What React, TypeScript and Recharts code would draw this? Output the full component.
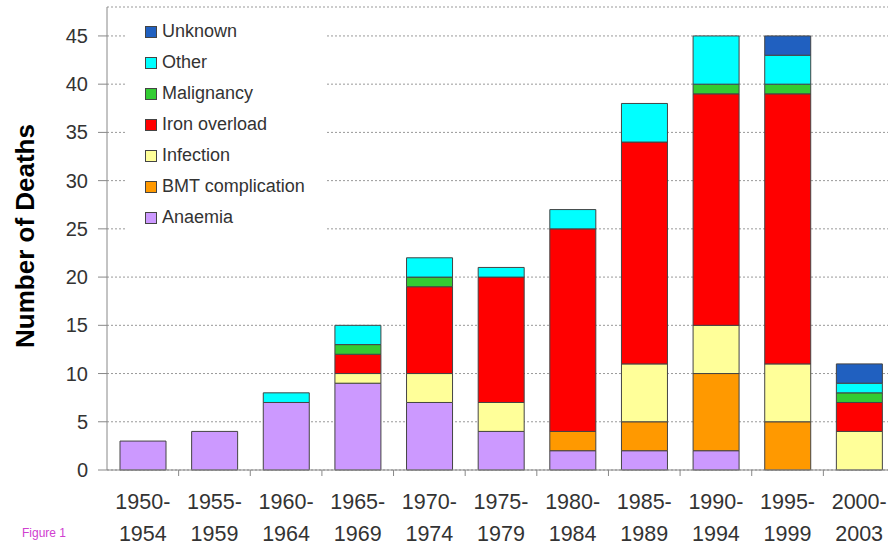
import React from 'react';
import { BarChart, Bar, XAxis, YAxis, CartesianGrid, Legend } from 'recharts';

const categories = ['1950-1954', '1955-1959', '1960-1964', '1965-1969', '1970-1974', '1975-1979', '1980-1984', '1985-1989', '1990-1994', '1995-1999', '2000-2003'];
const anaemia = [3, 4, 7, 9, 7, 4, 2, 2, 2, 0, 0];
const bmtComplication = [0, 0, 0, 0, 0, 0, 2, 3, 8, 5, 0];
const infection = [0, 0, 0, 1, 3, 3, 0, 6, 5, 6, 4];
const ironOverload = [0, 0, 0, 2, 9, 13, 21, 23, 24, 28, 3];
const malignancy = [0, 0, 0, 1, 1, 0, 0, 0, 1, 1, 1];
const other = [0, 0, 1, 2, 2, 1, 2, 4, 5, 3, 1];
const unknown = [0, 0, 0, 0, 0, 0, 0, 0, 0, 2, 2];

const seriesNames = ['Anaemia', 'BMT complication', 'Infection', 'Iron overload', 'Malignancy', 'Other', 'Unknown'];
const seriesColors = ['#CC99FF', '#FF9900', '#FFFF99', '#FF0000', '#33CC33', '#00FFFF', '#2060C0'];
const seriesValues = [anaemia, bmtComplication, infection, ironOverload, malignancy, other, unknown];
const yTicks = [0, 5, 10, 15, 20, 25, 30, 35, 40, 45];

const data = categories.map((c, i) => {
  const row: Record<string, any> = { period: c };
  seriesNames.forEach((n, k) => {
    row[n] = seriesValues[k][i];
  });
  return row;
});

const CHART_W = 900;
const CHART_H = 546;
const Y_W = 107;
const M_R = 5;
const BAND = (CHART_W - Y_W - M_R) / categories.length;
const FONT = '"Liberation Sans", Arial, sans-serif';

const XTick = (props: any) => {
  const { x, y, payload, index } = props;
  const value: string = payload.value;
  const dash = value.indexOf('-');
  const a = value.slice(0, dash + 1);
  const b = value.slice(dash + 1);
  return (
    <g>
      {index > 0 && (
        <line x1={x - BAND / 2} x2={x - BAND / 2} y1={y} y2={y + 6} stroke="#888" strokeWidth={1} />
      )}
      <text x={x} y={y + 39} textAnchor="middle" fontSize={21.5} fill="#333" fontFamily={FONT}>
        {a}
      </text>
      <text x={x} y={y + 71} textAnchor="middle" fontSize={21.5} fill="#333" fontFamily={FONT}>
        {b}
      </text>
    </g>
  );
};

const renderLegend = () => {
  const items = seriesNames.map((n, i) => ({ n, c: seriesColors[i] })).reverse();
  return (
    <div style={{ background: '#fff', width: 200, height: 226, paddingTop: 4, boxSizing: 'border-box', fontFamily: FONT }}>
      {items.map((it) => (
        <div key={it.n} style={{ display: 'flex', alignItems: 'center', height: 31, paddingLeft: 20 }}>
          <span style={{ display: 'inline-block', width: 10, height: 10, background: it.c, border: '1px solid #444', marginRight: 5 }} />
          <span style={{ fontSize: 18, color: '#333' }}>{it.n}</span>
        </div>
      ))}
    </div>
  );
};

export default function App() {
  return (
    <div style={{ position: 'absolute', left: 0, top: 0, width: 888, height: 546, overflow: 'hidden', background: '#fff' }}>
      <BarChart width={CHART_W} height={CHART_H} data={data} margin={{ top: 7, right: M_R, bottom: 0, left: 0 }} barSize={46}>
        <CartesianGrid vertical={false} stroke="#999" strokeDasharray="2 2" />
        <XAxis
          dataKey="period"
          height={76}
          tick={<XTick />}
          tickLine={false}
          tickSize={0}
          tickMargin={0}
          interval={0}
          axisLine={{ stroke: '#888' }}
        />
        <YAxis
          width={Y_W}
          domain={[0, 48]}
          ticks={yTicks}
          interval={0}
          tickSize={9}
          tickMargin={10}
          axisLine={{ stroke: '#888' }}
          tickLine={{ stroke: '#888' }}
          tick={{ fontSize: 20, fill: '#333', fontFamily: FONT }}
          label={{
            content: () => (
              <text
                x={25}
                y={236}
                transform="rotate(-90 25 236)"
                textAnchor="middle"
                dominantBaseline="central"
                fontSize={26}
                fontWeight="bold"
                fill="#000"
                fontFamily={FONT}
              >
                Number of Deaths
              </text>
            ),
          }}
        />
        <Legend
          layout="vertical"
          align="center"
          verticalAlign="middle"
          content={renderLegend}
          wrapperStyle={{ left: 125, top: 12, width: 200, height: 226 }}
        />
        {seriesNames.map((n, i) => (
          <Bar key={n} dataKey={n} stackId="a" fill={seriesColors[i]} stroke="#444" strokeWidth={1} isAnimationActive={false} />
        ))}
      </BarChart>
      <div style={{ position: 'absolute', left: 22, top: 526, fontSize: 12, color: '#d040d0', fontFamily: FONT }}>Figure 1</div>
    </div>
  );
}
